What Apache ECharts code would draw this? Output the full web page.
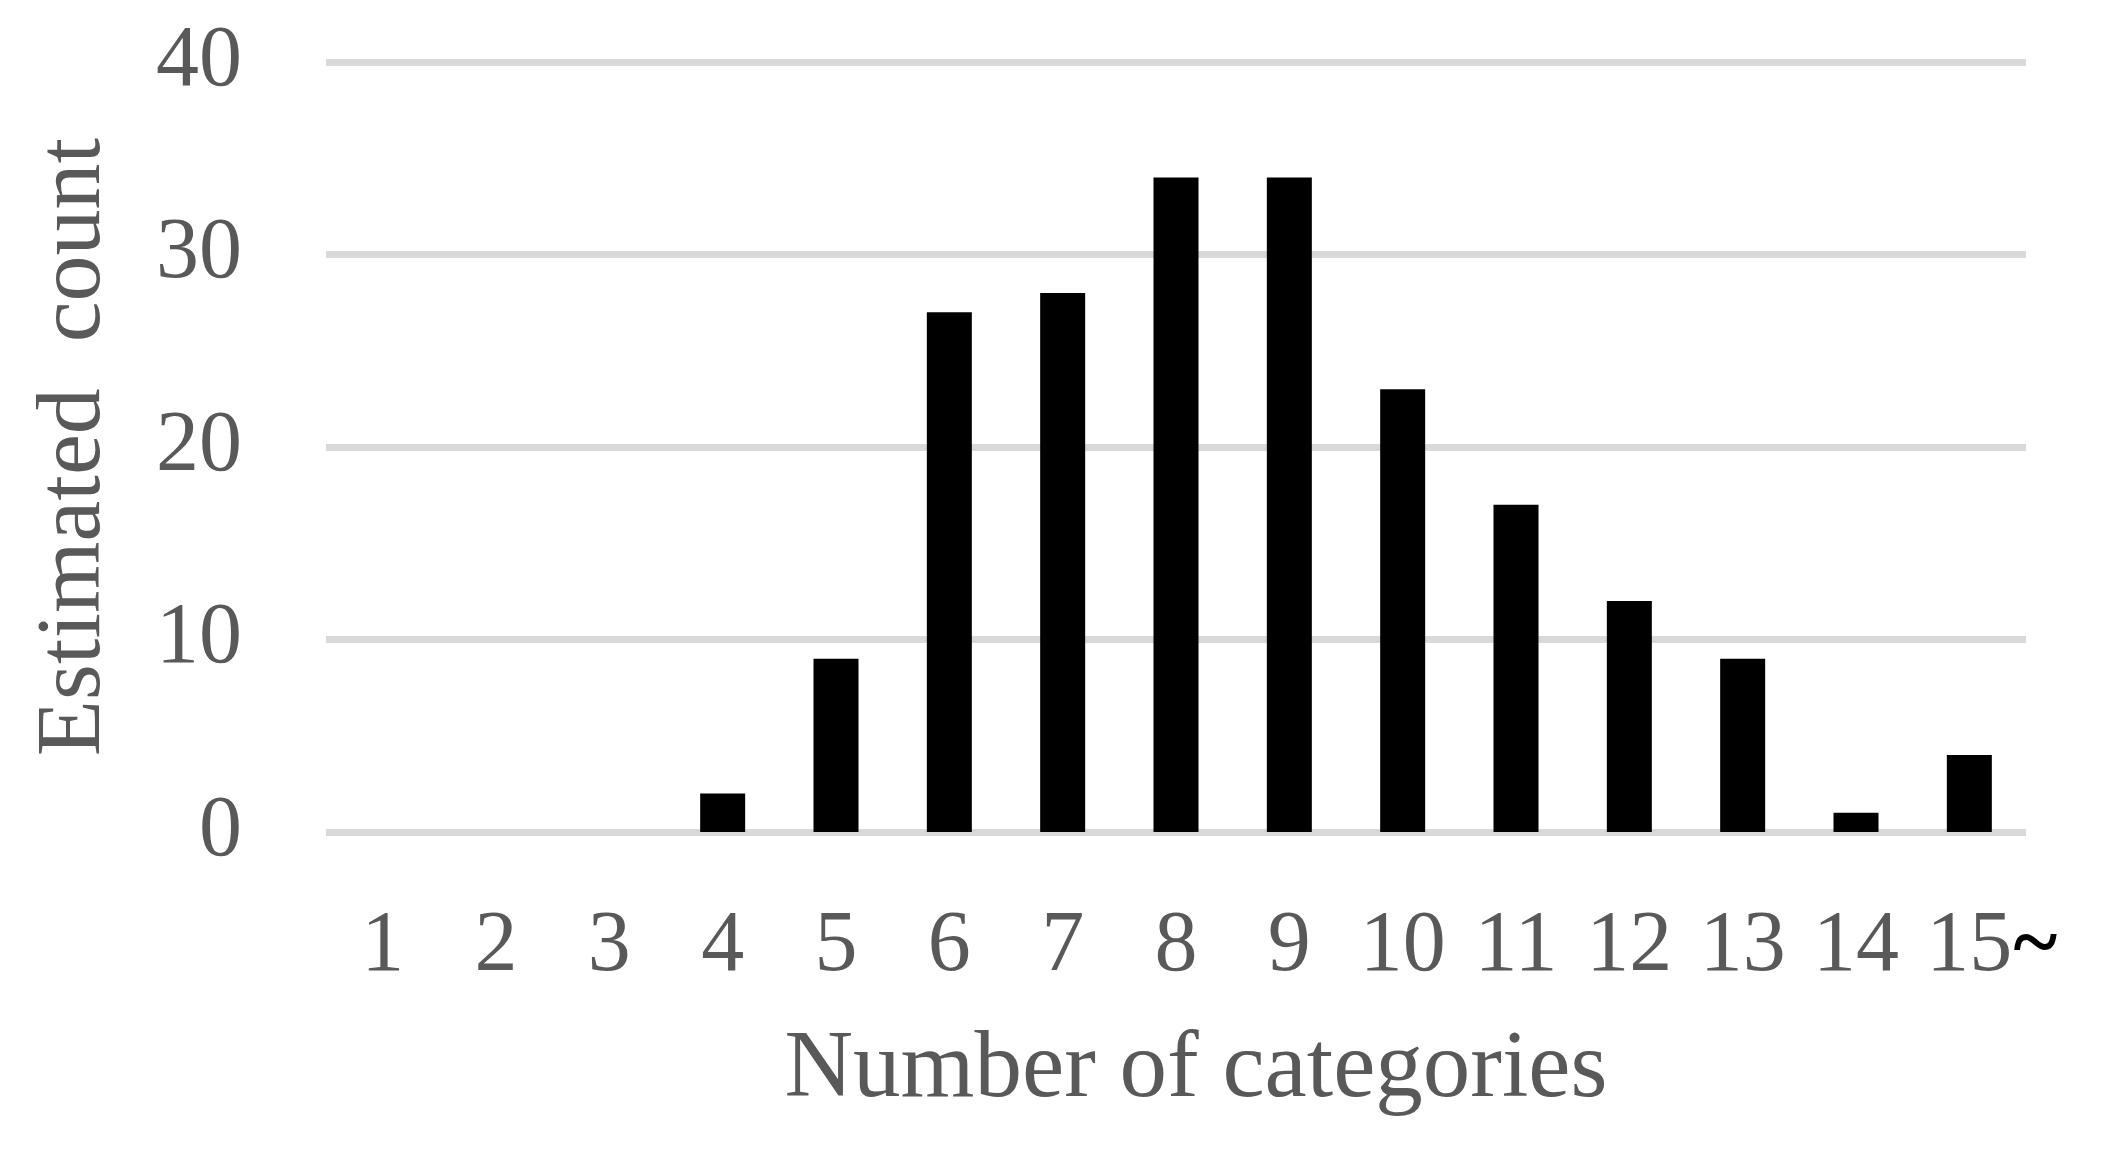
<!DOCTYPE html>
<html>
<head>
<meta charset="utf-8">
<title>Estimated count</title>
<script src="https://cdn.jsdelivr.net/npm/echarts@6/dist/echarts.min.js"></script>
<style>
  html, body { margin: 0; padding: 0; background: #fff; }
  #container { width: 2111px; height: 1151px; }
</style>
</head>
<body>
<div id="container"></div>
<script>
// categories on the x axis (last one is "15 and more")
var categories = ['1', '2', '3', '4', '5', '6', '7', '8', '9', '10', '11', '12', '13', '14', '15~'];
// bar heights
var counts = [0, 0, 0, 2, 9, 27, 28, 34, 34, 23, 17, 12, 9, 1, 4];
var yTicks = [0, 10, 20, 30, 40];

var textColor = '#595959';
var fontName = '"Liberation Serif", "DejaVu Serif", serif';

var dom = document.getElementById('container');
var myChart = echarts.init(dom);

var option = {
    backgroundColor: '#ffffff',
    animation: false,
    grid: {
        left: 326,
        right: 85,
        top: 62,
        bottom: 319
    },
    xAxis: {
        type: 'category',
        data: categories,
        name: 'Number of categories',
        nameLocation: 'middle',
        nameGap: 192,
        nameTextStyle: {
            color: textColor,
            fontFamily: fontName,
            fontSize: 95,
            padding: [0, 0, 0, 40]
        },
        axisLine: { show: false },
        axisTick: { show: false },
        axisLabel: {
            interval: 0,
            margin: 72,
            color: textColor,
            fontFamily: fontName,
            fontSize: 86,
            formatter: function(value) {
                // keep "15" under its bar, the tilde hangs off to the right
                if (value.indexOf('~') > -1) {
                    return '{p|}{n|' + value.replace('~', '') + '}{t|~}';
                }
                return value;
            },
            rich: {
                p: {
                    width: 46,
                    fontSize: 86,
                    lineHeight: 86
                },
                n: {
                    color: textColor,
                    fontFamily: fontName,
                    fontSize: 86,
                    lineHeight: 86
                },
                t: {
                    width: 46,
                    color: '#000000',
                    fontFamily: fontName,
                    fontSize: 84,
                    fontWeight: 'bold',
                    lineHeight: 86,
                    verticalAlign: 'bottom'
                }
            }
        }
    },
    yAxis: {
        type: 'value',
        min: yTicks[0],
        max: yTicks[yTicks.length - 1],
        interval: 10,
        name: 'Estimated  count',
        nameLocation: 'middle',
        nameGap: 205,
        nameTextStyle: {
            color: textColor,
            fontFamily: fontName,
            fontSize: 92
        },
        axisLine: { show: false },
        axisTick: { show: false },
        axisLabel: {
            margin: 84,
            color: textColor,
            fontFamily: fontName,
            fontSize: 86
        },
        splitLine: {
            lineStyle: {
                color: '#d9d9d9',
                width: 7
            }
        }
    },
    series: [
        {
            name: 'Estimated count',
            type: 'bar',
            data: counts,
            barWidth: 45,
            itemStyle: {
                color: '#000000'
            }
        }
    ]
};

myChart.setOption(option, true);
</script>
</body>
</html>
